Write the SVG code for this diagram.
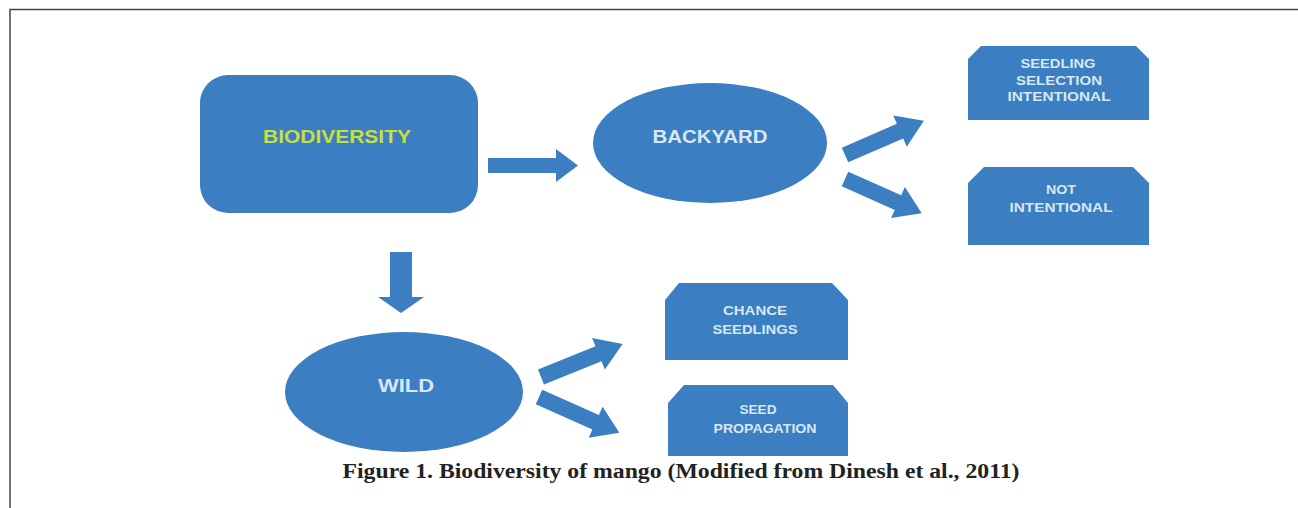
<svg xmlns="http://www.w3.org/2000/svg" width="1298" height="508" viewBox="0 0 1298 508">
  <style>
    .shape { fill: #3b7ec2; }
    .lbl { font-family: "Liberation Sans", Arial, sans-serif; font-weight: bold; fill: #d9e7f4; text-anchor: middle; }
    .big { font-size: 18px; }
    .small { font-size: 12.5px; }
    .bio { fill: #c9df3a; }
    .cap { font-family: "Liberation Serif", "Times New Roman", serif; font-weight: bold; font-size: 20px; fill: #222; text-anchor: middle; }
  </style>
  <rect width="1298" height="508" fill="#ffffff"/>
  <path d="M10,508 L10,9.5 L1298,9.5" fill="none" stroke="#444" stroke-width="1.5"/>

  <g id="biodiversity">
    <rect class="shape" x="200" y="75" width="278" height="138" rx="28" ry="28"/>
    <text class="lbl big bio" x="337" y="143" textLength="148" lengthAdjust="spacingAndGlyphs">BIODIVERSITY</text>
  </g>

  <g id="backyard">
    <ellipse class="shape" cx="710" cy="143" rx="117" ry="60"/>
    <text class="lbl big" x="710" y="143" textLength="115" lengthAdjust="spacingAndGlyphs">BACKYARD</text>
  </g>

  <g id="wild">
    <ellipse class="shape" cx="404" cy="392" rx="119" ry="60"/>
    <text class="lbl big" x="406" y="392" textLength="56" lengthAdjust="spacingAndGlyphs">WILD</text>
  </g>

  <g id="seedling-selection">
    <polygon class="shape" points="968,120 968,59 981,46 1136,46 1149,59 1149,120"/>
    <text class="lbl small" x="1058" y="68" textLength="75" lengthAdjust="spacingAndGlyphs">SEEDLING</text>
    <text class="lbl small" x="1059" y="85" textLength="86" lengthAdjust="spacingAndGlyphs">SELECTION</text>
    <text class="lbl small" x="1059" y="101" textLength="103" lengthAdjust="spacingAndGlyphs">INTENTIONAL</text>
  </g>

  <g id="not-intentional">
    <polygon class="shape" points="968,245 968,183 984,167 1133,167 1149,183 1149,245"/>
    <text class="lbl small" x="1061" y="194" textLength="30" lengthAdjust="spacingAndGlyphs">NOT</text>
    <text class="lbl small" x="1061" y="212" textLength="103" lengthAdjust="spacingAndGlyphs">INTENTIONAL</text>
  </g>

  <g id="chance-seedlings">
    <polygon class="shape" points="665,360 665,300 679,283 832,283 848,300 848,360"/>
    <text class="lbl small" x="755" y="315" textLength="64" lengthAdjust="spacingAndGlyphs">CHANCE</text>
    <text class="lbl small" x="755" y="334" textLength="85" lengthAdjust="spacingAndGlyphs">SEEDLINGS</text>
  </g>

  <g id="seed-propagation">
    <polygon class="shape" points="668,456 668,403 684,385 833,385 848,403 848,456"/>
    <text class="lbl small" x="758" y="414" textLength="37" lengthAdjust="spacingAndGlyphs">SEED</text>
    <text class="lbl small" x="765" y="433" textLength="103" lengthAdjust="spacingAndGlyphs">PROPAGATION</text>
  </g>

  <g id="connectors">
    <polygon class="shape" points="488,158 556,158 556,149 578,165.5 556,182 556,173 488,173"/>
    <polygon class="shape" points="390,252 412,252 412,297 424,297 401,313 378,297 390,297"/>
    <polygon class="shape" transform="translate(845,155) rotate(-23.5)" points="0,-8 60,-8 60,-17 86,0 60,17 60,8 0,8"/>
    <polygon class="shape" transform="translate(845,179) rotate(24)" points="0,-8 58,-8 58,-17 84,0 58,17 58,8 0,8"/>
    <polygon class="shape" transform="translate(541,377) rotate(-22)" points="0,-8 62,-8 62,-17 88,0 62,17 62,8 0,8"/>
    <polygon class="shape" transform="translate(539,397) rotate(24)" points="0,-8 62,-8 62,-17 88,0 62,17 62,8 0,8"/>
  </g>

  <text class="cap" x="681" y="478" textLength="677" lengthAdjust="spacingAndGlyphs">Figure 1. Biodiversity of mango (Modified from Dinesh et al., 2011)</text>
</svg>
